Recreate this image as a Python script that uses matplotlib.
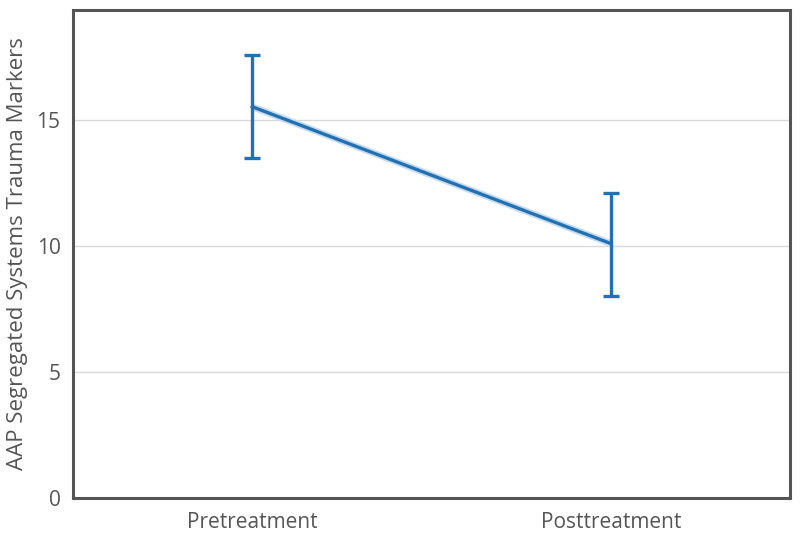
import matplotlib
matplotlib.use("Agg")
import matplotlib.pyplot as plt

categories = ["Pretreatment", "Posttreatment"]
means = [15.53, 10.1]
upper = [17.58, 12.12]
lower = [13.48, 8.02]
yticks = [0, 5, 10, 15]

plt.rcParams['font.family'] = ['Open Sans', 'DejaVu Sans']

fig = plt.figure(figsize=(8, 5.33), dpi=100)
ax = fig.add_axes([73/800, 1 - 498/533, (790-73)/800, (498-10)/533])

x = list(range(len(categories)))
yerr = [[m - l for m, l in zip(means, lower)], [u - m for m, u in zip(means, upper)]]
ax.plot(x, means, color="#c9dcee", lw=5, zorder=2, solid_capstyle='butt')
ax.errorbar(x, means, yerr=yerr, color="#2271b3", lw=2.4, elinewidth=2.4,
            capsize=5.5, capthick=2.4, zorder=3)

ax.set_xlim(-0.5, 1.5)
ax.set_ylim(0, 19.37)
ax.set_xticks(x)
ax.set_xticklabels(categories)
ax.set_yticks(yticks)
ax.yaxis.grid(True, color="#d9d9d9", lw=1)
ax.set_axisbelow(True)
ax.tick_params(length=0, labelsize=15, labelcolor="#555555", pad=9)
ax.tick_params(axis='x', pad=10)
for s in ax.spines.values():
    s.set_color("#555555")
    s.set_linewidth(2.2)
ax.set_ylabel("AAP Segregated Systems Trauma Markers", fontsize=16, color="#555555", labelpad=6)

fig.savefig("out.png", dpi=100, facecolor="white")
